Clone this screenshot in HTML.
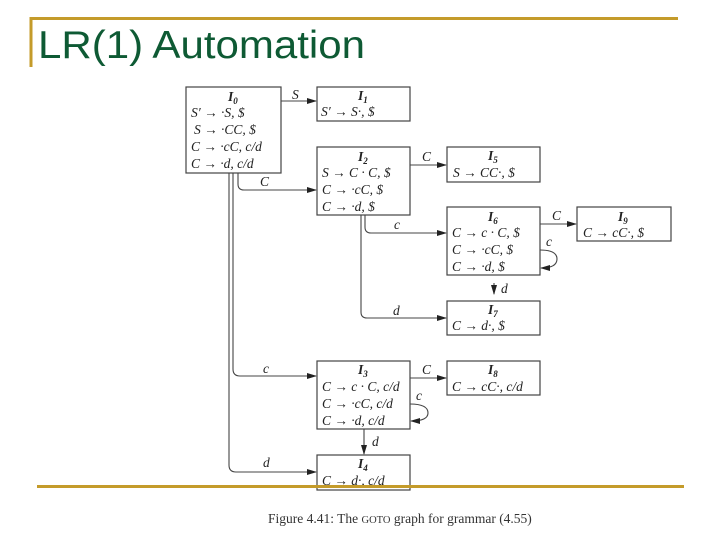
<!DOCTYPE html>
<html><head><meta charset="utf-8"><style>
html,body{margin:0;padding:0;background:#fff;width:720px;height:540px;overflow:hidden}
svg{display:block}
.t{font-family:"Liberation Serif",serif;font-style:italic;font-size:13.5px;fill:#222}
.h{font-family:"Liberation Serif",serif;font-style:italic;font-weight:bold;font-size:13.5px;fill:#222}
.b{fill:#fff;stroke:#444;stroke-width:1.2}
.l{fill:none;stroke:#444;stroke-width:1.1}
</style></head><body>
<svg width="720" height="540" viewBox="0 0 720 540">
<defs><marker id="a" markerWidth="10" markerHeight="8" refX="9" refY="4" orient="auto" markerUnits="userSpaceOnUse"><path d="M0,1 L10,4 L0,7 Z" fill="#222"/></marker></defs>
<line x1="30" y1="18.5" x2="678" y2="18.5" stroke="#c49b2a" stroke-width="3"/>
<line x1="31" y1="17" x2="31" y2="67" stroke="#c49b2a" stroke-width="3"/>
<text x="38" y="58" font-family="Liberation Sans,sans-serif" font-size="39" fill="#0e5a34" textLength="327" lengthAdjust="spacingAndGlyphs">LR(1) Automation</text>

<!-- connectors -->
<line class="l" x1="281" y1="101" x2="316" y2="101" marker-end="url(#a)"/>
<text class="t" x="292" y="99">S</text>
<path class="l" d="M238,173 V184 Q238,190 244,190 H316" marker-end="url(#a)"/>
<text class="t" x="260" y="186">C</text>
<path class="l" d="M233,173 V369 Q233,376 240,376 H316" marker-end="url(#a)"/>
<text class="t" x="263" y="373">c</text>
<path class="l" d="M229,173 V465 Q229,472 236,472 H316" marker-end="url(#a)"/>
<text class="t" x="263" y="467">d</text>
<line class="l" x1="410" y1="165" x2="446" y2="165" marker-end="url(#a)"/>
<text class="t" x="422" y="161">C</text>
<path class="l" d="M365,215 V227 Q365,233 371,233 H446" marker-end="url(#a)"/>
<text class="t" x="394" y="229">c</text>
<path class="l" d="M361,215 V312 Q361,318 367,318 H446" marker-end="url(#a)"/>
<text class="t" x="393" y="315">d</text>
<line class="l" x1="540" y1="224" x2="576" y2="224" marker-end="url(#a)"/>
<text class="t" x="552" y="220">C</text>
<path class="l" d="M540,250 Q557,250 557,259 Q557,268 541,268" marker-end="url(#a)"/>
<text class="t" x="546" y="246">c</text>
<line class="l" x1="494" y1="283" x2="494" y2="294" marker-end="url(#a)"/>
<text class="t" x="501" y="293">d</text>
<line class="l" x1="410" y1="378" x2="446" y2="378" marker-end="url(#a)"/>
<text class="t" x="422" y="374">C</text>
<path class="l" d="M410,404 Q428,404 428,413 Q428,421 411,421" marker-end="url(#a)"/>
<text class="t" x="416" y="400">c</text>
<line class="l" x1="364" y1="429" x2="364" y2="454" marker-end="url(#a)"/>
<text class="t" x="372" y="446">d</text>

<!-- boxes -->
<rect class="b" x="186" y="87" width="95" height="86"/>
<text class="h" x="228" y="101">I<tspan font-size="9" dy="3">0</tspan></text>
<text class="t" x="191" y="117">S′ → ·S, $</text>
<text class="t" x="194" y="134">S → ·CC, $</text>
<text class="t" x="191" y="151">C → ·cC, c/d</text>
<text class="t" x="191" y="168">C → ·d, c/d</text>

<rect class="b" x="317" y="87" width="93" height="34"/>
<text class="h" x="358" y="100">I<tspan font-size="9" dy="3">1</tspan></text>
<text class="t" x="321" y="116">S′ → S·, $</text>

<rect class="b" x="317" y="147" width="93" height="68"/>
<text class="h" x="358" y="161">I<tspan font-size="9" dy="3">2</tspan></text>
<text class="t" x="322" y="177">S → C · C, $</text>
<text class="t" x="322" y="194">C → ·cC, $</text>
<text class="t" x="322" y="211">C → ·d, $</text>

<rect class="b" x="447" y="147" width="93" height="35"/>
<text class="h" x="488" y="160">I<tspan font-size="9" dy="3">5</tspan></text>
<text class="t" x="453" y="177">S → CC·, $</text>

<rect class="b" x="447" y="207" width="93" height="68"/>
<text class="h" x="488" y="221">I<tspan font-size="9" dy="3">6</tspan></text>
<text class="t" x="452" y="237">C → c · C, $</text>
<text class="t" x="452" y="254">C → ·cC, $</text>
<text class="t" x="452" y="271">C → ·d, $</text>

<rect class="b" x="577" y="207" width="94" height="34"/>
<text class="h" x="618" y="221">I<tspan font-size="9" dy="3">9</tspan></text>
<text class="t" x="583" y="237">C → cC·, $</text>

<rect class="b" x="447" y="301" width="93" height="34"/>
<text class="h" x="488" y="314">I<tspan font-size="9" dy="3">7</tspan></text>
<text class="t" x="452" y="330">C → d·, $</text>

<rect class="b" x="317" y="361" width="93" height="68"/>
<text class="h" x="358" y="374">I<tspan font-size="9" dy="3">3</tspan></text>
<text class="t" x="322" y="391">C → c · C, c/d</text>
<text class="t" x="322" y="408">C → ·cC, c/d</text>
<text class="t" x="322" y="425">C → ·d, c/d</text>

<rect class="b" x="447" y="361" width="93" height="34"/>
<text class="h" x="488" y="374">I<tspan font-size="9" dy="3">8</tspan></text>
<text class="t" x="452" y="391">C → cC·, c/d</text>

<rect class="b" x="317" y="455" width="93" height="35"/>
<text class="h" x="358" y="468">I<tspan font-size="9" dy="3">4</tspan></text>
<text class="t" x="322" y="485">C → d·, c/d</text>

<line x1="37" y1="486.5" x2="684" y2="486.5" stroke="#c49b2a" stroke-width="3"/>
<text x="268" y="523" font-family="Liberation Serif,serif" font-size="13.5" fill="#333">Figure 4.41: The <tspan font-size="10.5">GOTO</tspan> graph for grammar (4.55)</text>
</svg>
</body></html>
